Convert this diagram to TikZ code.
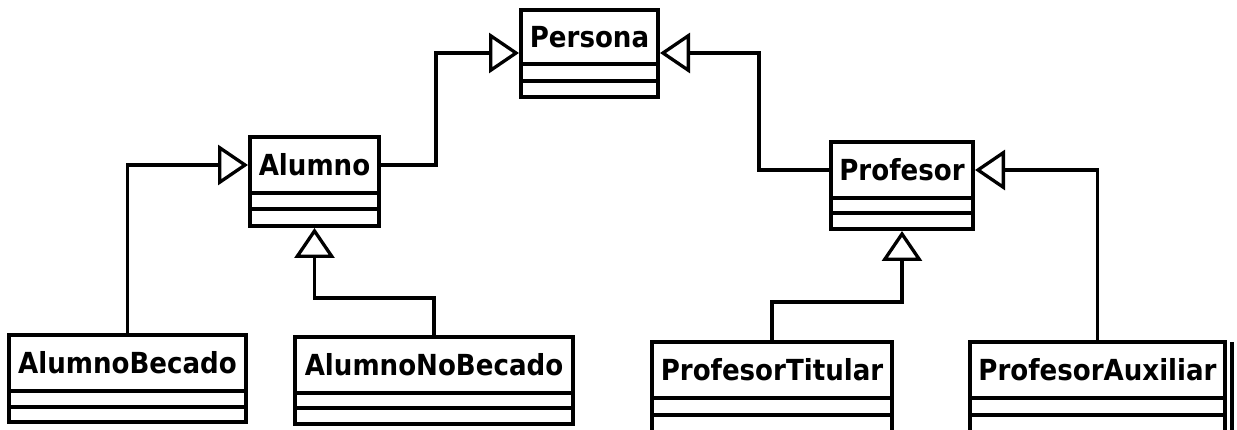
\documentclass[tikz,border=0pt]{standalone}
\usepackage{fontspec}
\newfontfamily\clsfont{DejaVu Sans Condensed Bold}
\usetikzlibrary{arrows.meta}
\tikzset{
  clsname/.style={draw, line width=3.3pt, anchor=north west, inner sep=0pt, outer sep=0pt,
    font=\clsfont\fontsize{29}{30}\selectfont, text height=21pt, text depth=0pt, align=center},
  clsline/.style={line width=3.3pt},
  gen/.style={line width=3.3pt, shorten >=2pt, -{Triangle[open, length=30pt, width=40pt, line width=3.3pt]}},
}
% name, left, top, right, line1, line2, bottom, text
\newcommand{\umlcls}[8]{%
  \node[clsname, minimum width={(#4-#2)*1pt}, minimum height={(#5-#3)*1pt}] (#1) at (#2,#3) {#8};
  \draw[clsline] (#2,#5) rectangle (#4,#7);
  \draw[clsline] (#2,#6) -- (#4,#6);
  \coordinate (#1-bottom) at ({(#2+#4)/2},#7);
}
\begin{document}
\begin{tikzpicture}[x=1pt, y=-1pt]
\useasboundingbox[fill=white] (0,0) rectangle (1237,430);
\umlcls{persona}{521}{10}{658}{64}{81}{97}{Persona}
\umlcls{alumno}{250}{137}{379}{193}{209}{226}{Alumno}
\umlcls{profesor}{831}{142}{973}{198}{213}{229}{Profesor}
\umlcls{becado}{9}{335}{246}{391}{407}{422}{AlumnoBecado}
\umlcls{nobecado}{295}{337}{573}{393}{408}{424}{AlumnoNoBecado}
\umlcls{titular}{652}{342}{892}{398}{415}{440}{ProfesorTitular}
\umlcls{auxiliar}{970}{342}{1225}{398}{415}{440}{ProfesorAuxiliar}
\coordinate (edgebar-top) at (1231.5,342);
\coordinate (edgebar-bot) at (1231.5,440);
\draw[line width=4pt] (edgebar-top) -- (edgebar-bot);
% generalisations
\draw[gen] (alumno.east) -- ++(57,0) |- ([yshift=-16pt]persona.west);
\draw[gen] (profesor.west) -- ++(-72,0) |- ([yshift=-16pt]persona.east);
\draw[gen] (becado.north) |- (alumno.west);
\draw[gen] (nobecado.north) -- ++(0,-39) -| (alumno-bottom);
\draw[gen] (titular.north) -- ++(0,-40) -| (profesor-bottom);
\draw[gen] (auxiliar.north) |- (profesor.east);
\end{tikzpicture}
\end{document}
